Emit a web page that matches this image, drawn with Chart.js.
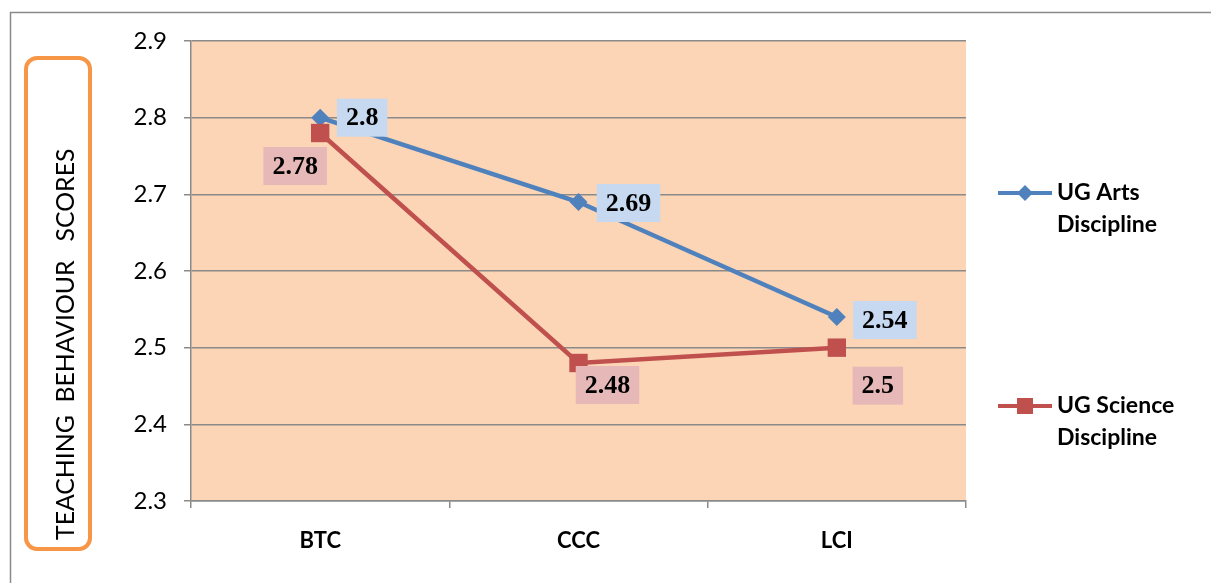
<!DOCTYPE html>
<html>
<head>
<meta charset="utf-8">
<script src="https://cdn.jsdelivr.net/npm/chart.js@4/dist/chart.umd.min.js"></script>
<style>
  html, body { margin: 0; padding: 0; background: #fff; }
  canvas { display: block; }
</style>
</head>
<body>
<canvas id="scorechart" width="1211" height="583"></canvas>
<script>
const categories = ['BTC', 'CCC', 'LCI'];
const artsScores = [2.8, 2.69, 2.54];
const scienceScores = [2.78, 2.48, 2.5];
const yTicks = [2.3, 2.4, 2.5, 2.6, 2.7, 2.8, 2.9];
const seriesNames = [['UG Arts', 'Discipline'], ['UG Science', 'Discipline']];
const yTitle = 'TEACHING  BEHAVIOUR   SCORES';

const BLUE = '#4F81BD';
const RED = '#C0504D';
const GRID = '#8a8a8a';

// where each value box sits, relative to its point (box centre)
const labelOffsets = [
    [[42, 0], [50, 1], [48, 3]],
    [[-25, 33], [29, 22], [41, 38]]
];
const labelFills = ['#C6D9F1', '#E6B9B8'];

const frame = {
    id: 'frame',
    beforeDraw(chart) {
        const ctx = chart.ctx;
        const a = chart.chartArea;
        ctx.save();
        ctx.fillStyle = '#FBD5B5';
        ctx.fillRect(a.left, a.top, a.right - a.left, a.bottom - a.top);
        // outer border
        ctx.strokeStyle = GRID;
        ctx.lineWidth = 1.5;
        ctx.beginPath();
        ctx.moveTo(10.5, 583);
        ctx.lineTo(10.5, 12.5);
        ctx.lineTo(1211, 12.5);
        ctx.stroke();
        // axis title box
        ctx.strokeStyle = '#F79646';
        ctx.lineWidth = 4;
        ctx.beginPath();
        ctx.roundRect(26, 58, 64, 491, 11);
        ctx.stroke();
        ctx.translate(66, 540);
        ctx.rotate(-Math.PI / 2);
        ctx.font = '21px Lato';
        const w = ctx.measureText(yTitle).width;
        const size = 21 * 392 / w;
        ctx.font = size.toFixed(1) + 'px Lato';
        ctx.fillStyle = '#000';
        ctx.textAlign = 'left';
        ctx.textBaseline = 'middle';
        ctx.fillText(yTitle, 0, 0);
        ctx.restore();
    },
    afterDraw(chart) {
        const ctx = chart.ctx;
        ctx.save();
        // value boxes
        ctx.font = 'bold 26px "Liberation Serif"';
        ctx.textAlign = 'center';
        ctx.textBaseline = 'middle';
        [artsScores, scienceScores].forEach((vals, di) => {
            const meta = chart.getDatasetMeta(di);
            vals.forEach((v, i) => {
                const pt = meta.data[i];
                const cx = pt.x + labelOffsets[di][i][0];
                const cy = pt.y + labelOffsets[di][i][1];
                const txt = String(v);
                const bw = ctx.measureText(txt).width + 18;
                const bh = 38;
                ctx.fillStyle = labelFills[di];
                ctx.fillRect(cx - bw / 2, cy - bh / 2, bw, bh);
                ctx.fillStyle = '#000';
                ctx.fillText(txt, cx, cy + 1);
            });
        });
        // legend
        const rows = [193, 406];
        const colours = [BLUE, RED];
        rows.forEach((y, k) => {
            ctx.strokeStyle = colours[k];
            ctx.lineWidth = 4;
            ctx.beginPath();
            ctx.moveTo(998, y);
            ctx.lineTo(1052, y);
            ctx.stroke();
            ctx.fillStyle = colours[k];
            if (k === 0) {
                ctx.beginPath();
                ctx.moveTo(1025 - 8, y);
                ctx.lineTo(1025, y - 8);
                ctx.lineTo(1025 + 8, y);
                ctx.lineTo(1025, y + 8);
                ctx.closePath();
                ctx.fill();
            } else {
                ctx.fillRect(1017, y - 8, 16, 16);
            }
            ctx.fillStyle = '#000';
            ctx.font = 'bold 23px Lato';
            ctx.textAlign = 'left';
            ctx.textBaseline = 'middle';
            ctx.fillText(seriesNames[k][0], 1057, y);
            ctx.fillText(seriesNames[k][1], 1057, y + 32);
        });
        ctx.restore();
    }
};

new Chart(document.getElementById('scorechart'), {
    type: 'line',
    data: {
        labels: categories,
        datasets: [{
            label: 'UG Arts Discipline',
            data: artsScores,
            borderColor: BLUE,
            backgroundColor: BLUE,
            borderWidth: 4.5,
            pointStyle: 'rectRot',
            pointRadius: 9,
            pointBorderWidth: 0,
            tension: 0,
            order: 2
        }, {
            label: 'UG Science Discipline',
            data: scienceScores,
            borderColor: RED,
            backgroundColor: RED,
            borderWidth: 4.5,
            pointStyle: 'rect',
            pointRadius: 13,
            pointBorderWidth: 0,
            tension: 0,
            order: 1
        }]
    },
    options: {
        responsive: false,
        animation: false,
        layout: { padding: { top: 41, right: 245, bottom: 0, left: 0 } },
        plugins: {
            legend: { display: false },
            tooltip: { enabled: false }
        },
        scales: {
            x: {
                offset: true,
                afterFit(scale) { scale.height = 82; },
                grid: { drawOnChartArea: false, drawTicks: true, tickLength: 7, color: GRID, lineWidth: 1.5, offset: true },
                border: { color: GRID, width: 1.5 },
                ticks: { color: '#000', font: { family: 'Lato', size: 22, weight: 'bold' }, padding: 20 }
            },
            y: {
                min: 2.3,
                max: 2.9,
                afterFit(scale) { scale.width = 191; },
                afterBuildTicks(scale) { scale.ticks = yTicks.map(v => ({ value: v })); },
                grid: { color: GRID, lineWidth: 1.5, tickLength: 7 },
                border: { color: GRID, width: 1.5 },
                ticks: {
                    color: '#000',
                    font: { family: 'Lato', size: 24 },
                    padding: 17,
                    callback: v => v.toFixed(1)
                }
            }
        }
    },
    plugins: [frame]
});
</script>
</body>
</html>
